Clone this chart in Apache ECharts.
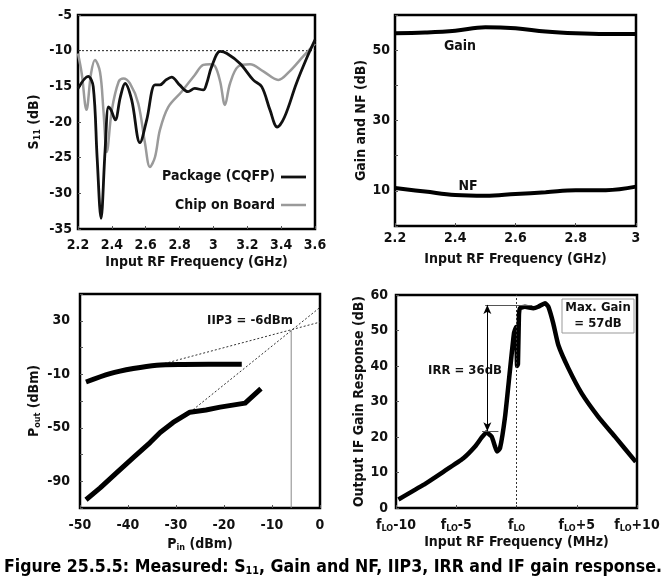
<!DOCTYPE html>
<html>
<head>
<meta charset="utf-8">
<script src="https://cdn.jsdelivr.net/npm/echarts@6/dist/echarts.min.js"></script>
<style>
    html, body { margin: 0; padding: 0; background: #fff; }
    #chart { width: 667px; height: 581px; }
</style>
</head>
<body>
<div id="chart"></div>
<script>
// S11 (top left)
const s11Package = [[2.2,-15.3],[2.26,-13.6],[2.29,-15.05],[2.313,-25],[2.336,-33.5],[2.36,-24],[2.38,-17.9],[2.395,-18.3],[2.42,-19.7],[2.45,-16.5],[2.478,-14.6],[2.517,-16.9],[2.566,-22.9],[2.606,-19.7],[2.655,-14.8],[2.684,-14.8],[2.72,-14.1],[2.753,-13.7],[2.8,-14.8],[2.85,-15.75],[2.89,-15.3],[2.94,-15.5],[2.96,-14.6],[2.99,-12.2],[3.04,-10.1],[3.08,-10.4],[3.157,-11.8],[3.235,-14.1],[3.285,-15.05],[3.334,-18.3],[3.377,-20.7],[3.42,-19.3],[3.49,-14.6],[3.55,-11.1],[3.6,-8.5]];
const s11Board = [[2.2,-10.4],[2.222,-13.2],[2.25,-18.3],[2.277,-13.2],[2.3,-11.3],[2.33,-13],[2.35,-18.3],[2.37,-24.2],[2.4,-18.3],[2.44,-14.35],[2.468,-13.9],[2.507,-14.6],[2.556,-17.4],[2.596,-23],[2.625,-26.3],[2.655,-24.9],[2.684,-21.1],[2.733,-17.9],[2.812,-15.75],[2.89,-13.4],[2.94,-12],[2.98,-11.9],[3.01,-12.2],[3.04,-14.35],[3.068,-17.6],[3.098,-14.6],[3.147,-12.2],[3.216,-11.9],[3.295,-12.9],[3.383,-14.1],[3.45,-12.9],[3.53,-10.8],[3.6,-9]];
const s11Ref = [[2.2,-10],[3.6,-10]];

// Gain and NF (top right)
const gainCurve = [[2.2,54.8],[2.3,55],[2.4,55.5],[2.5,56.5],[2.6,56.2],[2.7,55.3],[2.8,54.8],[2.9,54.6],[3.0,54.6]];
const nfCurve = [[2.2,10.8],[2.3,9.8],[2.4,8.8],[2.5,8.6],[2.6,9.1],[2.7,9.6],[2.8,10.2],[2.9,10.2],[3.0,11.2]];

// IIP3 (bottom left)
const fundOut = [[-48.75,-15.8],[-43.75,-9.5],[-38.9,-5.7],[-34,-3.2],[-28.5,-2.7],[-16.3,-2.5]];
const im3Out = [[-48.75,-103.8],[-45.8,-95],[-42.4,-83.7],[-38.9,-72.4],[-35.4,-61.1],[-33.3,-53.5],[-30.6,-46],[-27.1,-38.4],[-23.75,-36.7],[-20.8,-34.6],[-15.6,-31.6],[-12.3,-20.8]];
const fundExtrap = [[-34,-3.5],[0,29]];
const im3Extrap = [[-27.1,-38.4],[0,40]];
const iip3Drop = [[-6,23],[-6,-110]];

// IF gain response (bottom right)
const ifGain = [[-9.8,2.4],[-7.73,6.5],[-6.07,10.2],[-4.41,14],[-3.44,17.3],[-2.9,19.8],[-2.5,21.3],[-2.06,20.1],[-1.8,17.5],[-1.62,15.9],[-1.37,16.8],[-0.95,25.7],[-0.54,38.9],[-0.21,49.2],[-0.04,51],[0.05,40],[0.12,40.5],[0.2,54],[0.29,56.3],[0.7,56.7],[1.4,56.3],[1.8,56.7],[2.37,57.7],[2.64,56.7],[3.05,52],[3.47,45.9],[4.3,39.4],[5.41,32.3],[6.79,25.7],[8.17,20.1],[9.9,13]];
const irrTop = 57.2;
const irrBottom = 21.6;
const irrX = -2.42;

const FONT = '"Liberation Sans Narrow", "DejaVu Sans Condensed", "Liberation Sans", sans-serif';
const INK = '#111';

const chart = echarts.init(document.getElementById('chart'));

const labelStyle = (margin, extra) => Object.assign({
    color: INK, fontFamily: FONT, fontWeight: 'bold', fontSize: 14, margin: margin
}, extra || {});
const nameStyle = { color: INK, fontFamily: FONT, fontWeight: 'bold', fontSize: 14 };
const subRich = {
    sub: { fontFamily: FONT, fontWeight: 'bold', fontSize: 9, color: INK, verticalAlign: 'bottom', padding: [6, 0, 0, 0] }
};
const noSplit = { show: false };
const noLine = { show: false, onZero: false };
const tick = { inside: true, length: 3, lineStyle: { color: '#555' } };
const gridBox = { show: true, borderColor: '#000', borderWidth: 2.5, backgroundColor: 'transparent' };
const fixNum = v => String(+v.toFixed(1));

// caption is squeezed to the width of the figure (condensed face in the original)
const capMain = 'Figure 25.5.5: Measured: S';
const capRest = ', Gain and NF, IIP3, IRR and IF gain response.';
const ctx = document.createElement('canvas').getContext('2d');
ctx.font = 'bold 18px ' + FONT;
let capWidth = ctx.measureText(capMain + capRest).width;
ctx.font = 'bold 11px ' + FONT;
capWidth += ctx.measureText('11').width;
const capScale = Math.min(1, 658 / capWidth);

const option = {
    backgroundColor: '#fff',
    animation: false,
    grid: [
        Object.assign({ left: 78, top: 15, width: 237, height: 214 }, gridBox),
        Object.assign({ left: 395, top: 15, width: 241, height: 211 }, gridBox),
        Object.assign({ left: 80, top: 294, width: 240, height: 214 }, gridBox),
        Object.assign({ left: 396, top: 295, width: 241, height: 213 }, gridBox)
    ],
    xAxis: [
        {
            gridIndex: 0, type: 'value', min: 2.2, max: 3.6, interval: 0.2,
            axisLine: noLine, axisTick: tick, splitLine: noSplit,
            axisLabel: labelStyle(9, { formatter: fixNum }),
            name: 'Input RF Frequency (GHz)', nameLocation: 'middle', nameGap: 26, nameTextStyle: nameStyle
        },
        {
            gridIndex: 1, type: 'value', min: 2.2, max: 3.0, interval: 0.2,
            axisLine: noLine, axisTick: tick, splitLine: noSplit,
            axisLabel: labelStyle(5, { formatter: fixNum }),
            name: 'Input RF Frequency (GHz)', nameLocation: 'middle', nameGap: 26, nameTextStyle: nameStyle
        },
        {
            gridIndex: 2, type: 'value', min: -50, max: 0, interval: 10,
            axisLine: noLine, axisTick: tick, splitLine: noSplit,
            axisLabel: labelStyle(10),
            name: '{n|P}{sub|in}{n| (dBm)}', nameLocation: 'middle', nameGap: 29,
            nameTextStyle: Object.assign({ rich: Object.assign({ n: nameStyle }, subRich) }, nameStyle)
        },
        {
            gridIndex: 3, type: 'value', min: -10, max: 10, interval: 5,
            axisLine: noLine, axisTick: tick, splitLine: noSplit,
            axisLabel: labelStyle(10, {
                formatter: v => v === 0 ? '{n|f}{sub|LO}' : '{n|f}{sub|LO}{n|' + (v > 0 ? '+' + v : v) + '}',
                rich: Object.assign({ n: { fontFamily: FONT, fontWeight: 'bold', fontSize: 14, color: INK } }, subRich)
            }),
            name: 'Input RF Frequency (MHz)', nameLocation: 'middle', nameGap: 27, nameTextStyle: nameStyle
        }
    ],
    yAxis: [
        {
            gridIndex: 0, type: 'value', min: -35, max: -5, interval: 5,
            axisLine: noLine, axisTick: tick, splitLine: noSplit,
            axisLabel: labelStyle(6),
            name: '{n|S}{sub|11}{n| (dB)}', nameLocation: 'middle', nameGap: 36,
            nameTextStyle: Object.assign({ rich: Object.assign({ n: nameStyle }, subRich) }, nameStyle)
        },
        {
            gridIndex: 1, type: 'value', min: 0, max: 60, interval: 10,
            axisLine: noLine, axisTick: tick, splitLine: noSplit,
            axisLabel: labelStyle(5, { formatter: v => (v % 20 === 10 ? String(v) : '') }),
            name: 'Gain and NF (dB)', nameLocation: 'middle', nameGap: 26, nameTextStyle: nameStyle
        },
        {
            gridIndex: 2, type: 'value', min: -110, max: 50, interval: 20,
            axisLine: noLine, axisTick: tick, splitLine: noSplit,
            axisLabel: labelStyle(10, { formatter: v => ((v + 90) % 40 === 0 ? String(v) : '') }),
            name: '{n|P}{sub|out}{n| (dBm)}', nameLocation: 'middle', nameGap: 38,
            nameTextStyle: Object.assign({ rich: Object.assign({ n: nameStyle }, subRich) }, nameStyle)
        },
        {
            gridIndex: 3, type: 'value', min: 0, max: 60, interval: 10,
            axisLine: noLine, axisTick: tick, splitLine: noSplit,
            axisLabel: labelStyle(8),
            name: 'Output IF Gain Response (dB)', nameLocation: 'middle', nameGap: 26, nameTextStyle: nameStyle
        }
    ],
    series: [
        // S11
        { type: 'line', xAxisIndex: 0, yAxisIndex: 0, data: s11Ref, showSymbol: false, silent: true,
          lineStyle: { color: '#222', width: 1, type: [2, 2] } },
        { type: 'line', xAxisIndex: 0, yAxisIndex: 0, data: s11Board, showSymbol: false, smooth: 0.35,
          lineStyle: { color: '#9a9a9a', width: 2.5 } },
        { type: 'line', xAxisIndex: 0, yAxisIndex: 0, data: s11Package, showSymbol: false, smooth: 0.35,
          lineStyle: { color: '#111', width: 2.8 } },
        // Gain / NF
        { type: 'line', xAxisIndex: 1, yAxisIndex: 1, data: gainCurve, showSymbol: false, smooth: 0.4,
          lineStyle: { color: '#000', width: 4 } },
        { type: 'line', xAxisIndex: 1, yAxisIndex: 1, data: nfCurve, showSymbol: false, smooth: 0.4,
          lineStyle: { color: '#000', width: 4 } },
        // IIP3
        { type: 'line', xAxisIndex: 2, yAxisIndex: 2, data: fundExtrap, showSymbol: false,
          lineStyle: { color: '#333', width: 1, type: [2, 2] } },
        { type: 'line', xAxisIndex: 2, yAxisIndex: 2, data: im3Extrap, showSymbol: false,
          lineStyle: { color: '#333', width: 1, type: [2, 2] } },
        { type: 'line', xAxisIndex: 2, yAxisIndex: 2, data: iip3Drop, showSymbol: false,
          lineStyle: { color: '#888', width: 1 } },
        { type: 'line', xAxisIndex: 2, yAxisIndex: 2, data: fundOut, showSymbol: false, smooth: 0.3,
          lineStyle: { color: '#000', width: 5 } },
        { type: 'line', xAxisIndex: 2, yAxisIndex: 2, data: im3Out, showSymbol: false,
          lineStyle: { color: '#000', width: 5, join: 'round' } },
        // IF gain response
        { type: 'line', xAxisIndex: 3, yAxisIndex: 3, data: ifGain, showSymbol: false, smooth: 0.15,
          lineStyle: { color: '#000', width: 4.5, join: 'round' },
          markLine: {
              silent: true, symbol: 'none', label: { show: false },
              data: [
                  { xAxis: 0, lineStyle: { color: '#333', width: 1, type: [2, 2] } },
                  [{ coord: [-2.6, irrTop] }, { coord: [1.3, irrTop], lineStyle: { color: '#555', width: 1, type: 'solid' } }],
                  [{ coord: [-2.86, irrBottom] }, { coord: [-1.5, irrBottom], lineStyle: { color: '#555', width: 1, type: 'solid' } }],
                  [{ coord: [irrX, irrBottom], symbol: 'arrow', symbolSize: [6, 9] },
                   { coord: [irrX, irrTop], symbol: 'arrow', symbolSize: [6, 9], lineStyle: { color: '#000', width: 1, type: 'solid' } }]
              ]
          }
        }
    ],
    graphic: [
        // S11 legend
        { type: 'text', x: 275, y: 176, style: { text: 'Package (CQFP)', align: 'right', verticalAlign: 'middle', font: 'bold 14px ' + FONT, fill: INK } },
        { type: 'line', shape: { x1: 281, y1: 177, x2: 306, y2: 177 }, style: { stroke: '#111', lineWidth: 2.8 } },
        { type: 'text', x: 275, y: 205, style: { text: 'Chip on Board', align: 'right', verticalAlign: 'middle', font: 'bold 14px ' + FONT, fill: INK } },
        { type: 'line', shape: { x1: 281, y1: 205, x2: 306, y2: 205 }, style: { stroke: '#9a9a9a', lineWidth: 2.5 } },
        // Gain / NF labels
        { type: 'text', x: 460, y: 46, style: { text: 'Gain', align: 'center', verticalAlign: 'middle', font: 'bold 14px ' + FONT, fill: INK } },
        { type: 'text', x: 468, y: 186, style: { text: 'NF', align: 'center', verticalAlign: 'middle', font: 'bold 14px ' + FONT, fill: INK } },
        // IIP3 label
        { type: 'text', x: 250, y: 321, style: { text: 'IIP3 = -6dBm', align: 'center', verticalAlign: 'middle', font: 'bold 13px ' + FONT, fill: INK } },
        // IRR label and max gain box
        { type: 'text', x: 465, y: 371, style: { text: 'IRR = 36dB', align: 'center', verticalAlign: 'middle', font: 'bold 13px ' + FONT, fill: INK } },
        { type: 'rect', shape: { x: 562, y: 299, width: 72, height: 34 }, style: { fill: '#fff', stroke: '#999', lineWidth: 1 } },
        { type: 'text', x: 598, y: 308, style: { text: 'Max. Gain', align: 'center', verticalAlign: 'middle', font: 'bold 13px ' + FONT, fill: INK } },
        { type: 'text', x: 598, y: 324, style: { text: '= 57dB', align: 'center', verticalAlign: 'middle', font: 'bold 13px ' + FONT, fill: INK } },
        // caption
        { type: 'text', x: 4, y: 567, scaleX: capScale, style: {
            text: '{c|' + capMain + '}{s|11}{c|' + capRest + '}',
            verticalAlign: 'middle',
            rich: {
                c: { font: 'bold 18px ' + FONT, fill: '#000' },
                s: { font: 'bold 11px ' + FONT, fill: '#000', verticalAlign: 'bottom', padding: [8, 0, 0, 0] }
            }
        } }
    ]
};

chart.setOption(option);
</script>
</body>
</html>
